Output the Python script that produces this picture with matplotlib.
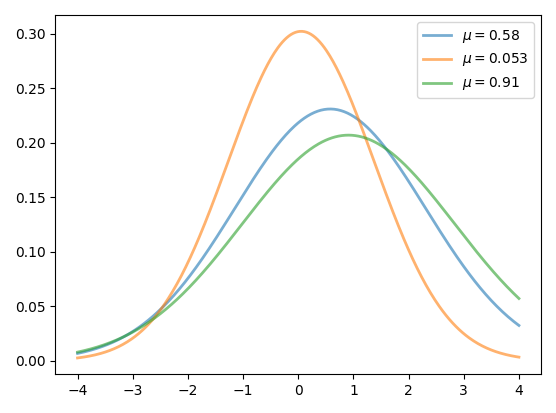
import numpy as np
import matplotlib
matplotlib.use("Agg")
import matplotlib.pyplot as plt

# curve parameters (peak position and height)
mus = [0.58, 0.053, 0.91]
sigmas = [1.727, 1.32, 1.927]
labels = [r"$\mu=0.58$", r"$\mu=0.053$", r"$\mu=0.91$"]

x = np.linspace(-4, 4, 400)

fig, ax = plt.subplots(figsize=(5.56, 4.13), dpi=100)
for mu, sd, lab in zip(mus, sigmas, labels):
    y = np.exp(-0.5 * ((x - mu) / sd) ** 2) / (sd * np.sqrt(2 * np.pi))
    ax.plot(x, y, lw=2, alpha=0.6, label=lab)
ax.legend()
fig.tight_layout()
fig.savefig("out.png", dpi=100)
